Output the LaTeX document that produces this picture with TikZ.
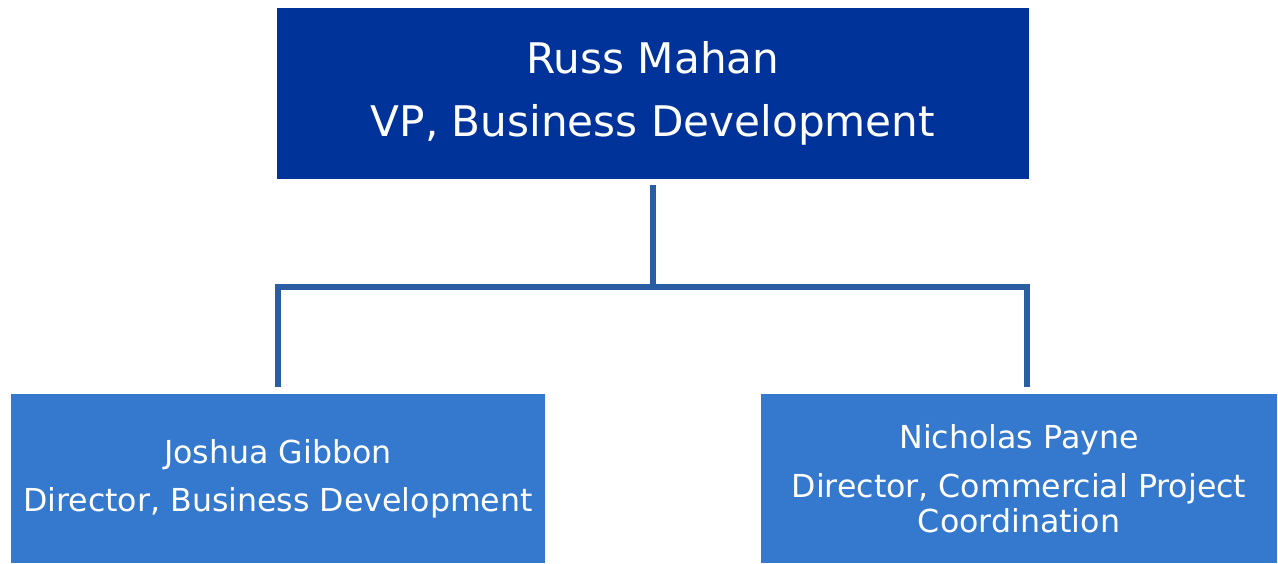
\documentclass[tikz,border=0pt]{standalone}
\usepackage{fontspec}
\setmainfont{DejaVu Sans}
\usetikzlibrary{positioning}
\definecolor{vpblue}{RGB}{0,51,153}
\definecolor{dirblue}{RGB}{53,121,206}
\definecolor{linkblue}{RGB}{42,94,163}
\newcommand*{\bigtxt}{\fontsize{24}{36}\selectfont}
\newcommand*{\smalltxt}{\fontsize{18}{27.5}\selectfont}

\begin{document}
\begin{tikzpicture}[node distance=2cm,on grid,
      box/.style={fill=#1,text=white,align=center,inner sep=0pt},
      link/.style={draw=linkblue,line width=0.12cm}]
      \useasboundingbox (-13.06,1.87) rectangle (12.5,-9.41);
      \node[box=vpblue, minimum width=15.04cm, minimum height=3.42cm, font=\bigtxt]
        (rm) {Russ Mahan\\VP, Business Development};
      \node[box=dirblue, minimum width=10.68cm, minimum height=3.38cm, font=\smalltxt]
        (jg) [below left=7.7cm and 7.5cm of rm] {Joshua Gibbon\\Director, Business Development};
      \node[box=dirblue, minimum width=10.32cm, minimum height=3.38cm,
        font=\fontsize{18}{20}\selectfont]
        (np) [below right=7.7cm and 7.32cm of rm] {Nicholas Payne\\[8pt]
        Director, Commercial Project\\Coordination};
      \coordinate (bus) at ([yshift=-3.87cm]rm.center);
      \draw[link, shorten <=0.12cm] (rm) -- (bus);
      \draw[link, shorten >=0.14cm] (bus) -| (jg);
      \draw[link, shorten >=0.14cm] (bus) -| ([xshift=0.16cm]np.north);
    \end{tikzpicture}
\end{document}
